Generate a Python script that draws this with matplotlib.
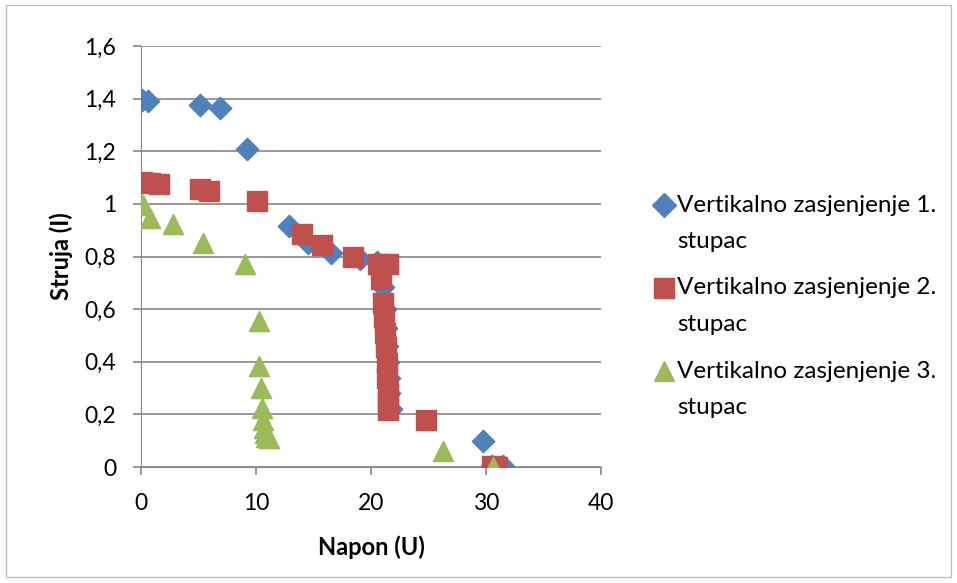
import matplotlib.pyplot as plt
from matplotlib.lines import Line2D
from matplotlib.ticker import FuncFormatter

# Podaci očitani s grafa: napon (U) i struja (I)
napon_1 = [0.1, 0.6, 5.1, 6.9, 9.2, 12.9, 14.5, 16.5, 19.0, 20.5, 21.0, 21.2, 21.3,
           21.4, 21.5, 21.6, 21.6, 21.7, 29.7, 30.5, 31.5]
struja_1 = [1.395, 1.39, 1.375, 1.365, 1.21, 0.915, 0.85, 0.815, 0.79, 0.78, 0.685, 0.6,
            0.53, 0.46, 0.4, 0.34, 0.28, 0.22, 0.10, 0.005, 0.003]

napon_2 = [0.1, 0.8, 1.6, 5.1, 5.9, 10.1, 14.0, 15.7, 18.4, 20.6, 21.5, 20.9,
           21.0, 21.1, 21.2, 21.3, 21.4, 21.4, 21.5, 21.5, 21.5, 24.8, 30.5, 31.0]
struja_2 = [1.083, 1.08, 1.075, 1.055, 1.048, 1.01, 0.885, 0.843, 0.80, 0.77, 0.77, 0.715,
            0.625, 0.57, 0.51, 0.456, 0.395, 0.34, 0.29, 0.243, 0.217, 0.178, 0.005, 0.0]

napon_3 = [0.2, 0.8, 2.8, 5.4, 9.0, 10.3, 10.3, 10.4, 10.5, 10.6, 10.7, 10.8, 10.9, 11.1,
           26.3, 30.6]
struja_3 = [0.995, 0.945, 0.925, 0.85, 0.77, 0.555, 0.385, 0.30, 0.225, 0.18, 0.15,
            0.13, 0.115, 0.11, 0.06, 0.0]

oznake = ["Vertikalno zasjenjenje 1.\nstupac",
          "Vertikalno zasjenjenje 2.\nstupac",
          "Vertikalno zasjenjenje 3.\nstupac"]

plavo, crveno, zeleno = "#4f81bd", "#c0504d", "#9bbb59"

plt.rcParams["font.family"] = ["Lato", "DejaVu Sans"]

W, H = 957, 583
fig = plt.figure(figsize=(W / 100, H / 100), dpi=100)
fig.patches.append(plt.Rectangle((0.006, 0.01), 0.988, 0.982, transform=fig.transFigure,
                                 fill=False, edgecolor="#bfbfbf", linewidth=1))
ax = fig.add_axes([141 / W, 1 - 467 / H, 460 / W, 421 / H])

ax.scatter(napon_1, struja_1, marker="D", s=130, color=plavo, zorder=3)
ax.scatter(napon_2, struja_2, marker="s", s=210, color=crveno, zorder=4)
ax.scatter(napon_3, struja_3, marker="^", s=210, color=zeleno, zorder=5)

ax.set_xlim(0, 40)
ax.set_ylim(0, 1.6)
ax.set_xticks(range(0, 41, 10))
ax.set_yticks([i * 0.2 for i in range(9)])
ax.yaxis.set_major_formatter(FuncFormatter(lambda v, _: f"{v:g}".replace(".", ",")))
ax.grid(axis="y", color="#868686", linewidth=1.2)
ax.set_axisbelow(True)
for s in ["top", "right"]:
    ax.spines[s].set_visible(False)
for s in ["left", "bottom"]:
    ax.spines[s].set_color("#868686")
ax.tick_params(colors="#868686", labelcolor="black", labelsize=16.5, length=6, width=1.2)
ax.tick_params(axis="y", pad=12)
ax.tick_params(axis="x", pad=13)

ax.set_xlabel("Napon (U)", fontsize=17, fontweight="bold", labelpad=15)
ax.set_ylabel("Struja (I)", fontsize=17, fontweight="bold", labelpad=8)

# legenda: marker uz prvi red teksta
markeri = ["D", "s", "^"]
boje = [plavo, crveno, zeleno]
velicine = [12, 15, 15]
for i, (m, b, v, t) in enumerate(zip(markeri, boje, velicine, oznake)):
    y_px = 205 + i * 83
    fig.add_artist(Line2D([664 / W], [1 - y_px / H], marker=m, color=b, markersize=v,
                          linestyle="none", transform=fig.transFigure))
    for j, red in enumerate(t.split("\n")):
        fig.text(677 / W, 1 - (y_px + j * 37) / H, red, fontsize=17.5, va="center", ha="left")

fig.savefig("out.png", dpi=100)
